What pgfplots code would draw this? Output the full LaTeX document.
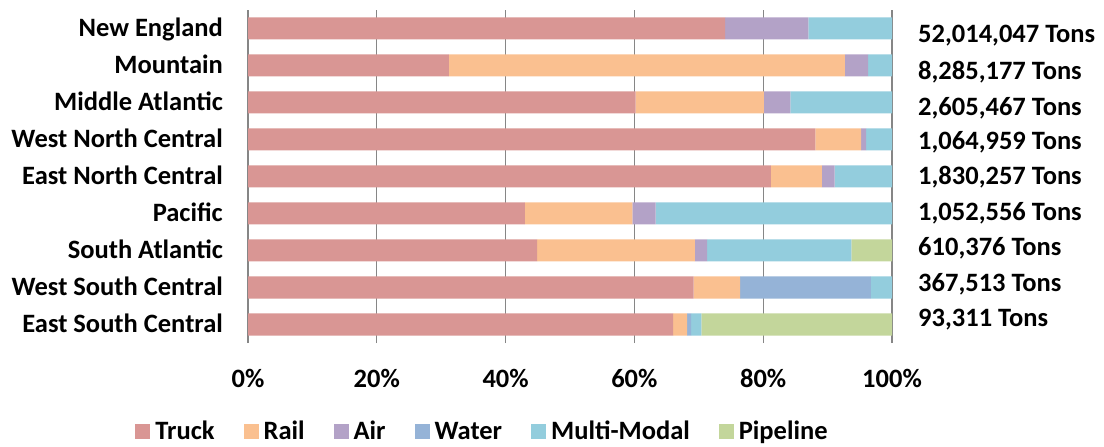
\documentclass[border=0pt]{standalone}
\usepackage{pgfplots}
\pgfplotsset{compat=1.18}
\usepackage{pgfplotstable}
\usepackage{fontspec}
\setmainfont{Carlito}
\definecolor{truck}{HTML}{D99694}
\definecolor{rail}{HTML}{FAC090}
\definecolor{air}{HTML}{B3A2C7}
\definecolor{water}{HTML}{95B3D7}
\definecolor{mm}{HTML}{93CDDD}
\definecolor{pipe}{HTML}{C3D69B}
\definecolor{gridgray}{HTML}{868686}
\newcommand\lblfont{\fontsize{26.5bp}{30bp}\selectfont\bfseries}

\pgfplotstableread{
y Truck Rail Air Water MM Pipeline
8 74.1 0 12.9 0 13.0 0
7 31.2 61.5 3.6 0 3.7 0
6 60.2 19.9 4.1 0 15.8 0
5 88.1 7.1 0.8 0 4.0 0
4 81.2 7.9 2.0 0 8.9 0
3 43.0 16.7 3.6 0 36.7 0
2 44.9 24.5 1.9 0 22.4 6.3
1 69.2 7.2 0 20.3 3.3 0
0 66.0 2.2 0 0.6 1.6 29.6
}\regiontab

\begin{document}
\begin{tikzpicture}
\path (0,0) rectangle (1104bp,447bp);
\begin{axis}[
  at={(248bp,104bp)}, anchor=south west,
  scale only axis, width=644bp, height=333bp,
  xbar stacked, bar width=22bp,
  xmin=0, xmax=100, ymin=-0.5, ymax=8.5,
  xtick={0,20,40,60,80,100},
  xticklabels={0\%,20\%,40\%,60\%,80\%,100\%},
  ytick={0,1,2,3,4,5,6,7,8},
  yticklabels={East South Central,West South Central,South Atlantic,Pacific,East North Central,West North Central,Middle Atlantic,Mountain,New England},
  major tick length=0pt,
  axis line style={draw=none},
  xmajorgrids,
  major grid style={draw=gridgray, line width=1.2bp},
  ticklabel style={font=\lblfont},
  yticklabel style={anchor=east, inner sep=0pt, xshift=-25bp, text height=16.9bp, text depth=0pt},
  xticklabel style={anchor=north, inner sep=0pt, yshift=-27bp, text height=16.9bp, text depth=0pt},
  clip=false,
  legend columns=-1,
  legend image code/.code={\fill[#1] (0bp,-7.5bp) rectangle (15bp,7.5bp);},
  legend style={draw=none, at={(rel axis cs:0.3626,-0.2658)}, anchor=center,
    font=\lblfont, nodes={inner sep=0pt, text height=16.9bp, text depth=0pt},
    /tikz/every odd column/.append style={column sep=5bp},
    /tikz/every even column/.append style={column sep=29bp}},
]
\addplot[fill=truck, draw=none] table[x=Truck, y=y] {\regiontab};
\addplot[fill=rail, draw=none] table[x=Rail, y=y] {\regiontab};
\addplot[fill=air, draw=none] table[x=Air, y=y] {\regiontab};
\addplot[fill=water, draw=none] table[x=Water, y=y] {\regiontab};
\addplot[fill=mm, draw=none] table[x=MM, y=y] {\regiontab};
\addplot[fill=pipe, draw=none] table[x=Pipeline, y=y] {\regiontab};
\legend{Truck,Rail,Air,Water,Multi-Modal,Pipeline}
\node[anchor=base west, inner sep=0pt, font=\lblfont, xshift=26bp] at (axis cs:100,7.614) {52,014,047 Tons};
\node[anchor=base west, inner sep=0pt, font=\lblfont, xshift=26bp] at (axis cs:100,6.622) {8,285,177 Tons};
\node[anchor=base west, inner sep=0pt, font=\lblfont, xshift=26bp] at (axis cs:100,5.649) {2,605,467 Tons};
\node[anchor=base west, inner sep=0pt, font=\lblfont, xshift=26bp] at (axis cs:100,4.730) {1,064,959 Tons};
\node[anchor=base west, inner sep=0pt, font=\lblfont, xshift=26bp] at (axis cs:100,3.784) {1,830,257 Tons};
\node[anchor=base west, inner sep=0pt, font=\lblfont, xshift=26bp] at (axis cs:100,2.819) {1,052,556 Tons};
\node[anchor=base west, inner sep=0pt, font=\lblfont, xshift=26bp] at (axis cs:100,1.865) {610,376 Tons};
\node[anchor=base west, inner sep=0pt, font=\lblfont, xshift=26bp] at (axis cs:100,0.905) {367,513 Tons};
\node[anchor=base west, inner sep=0pt, font=\lblfont, xshift=26bp] at (axis cs:100,-0.046) {93,311 Tons};
\end{axis}
\end{tikzpicture}
\end{document}
